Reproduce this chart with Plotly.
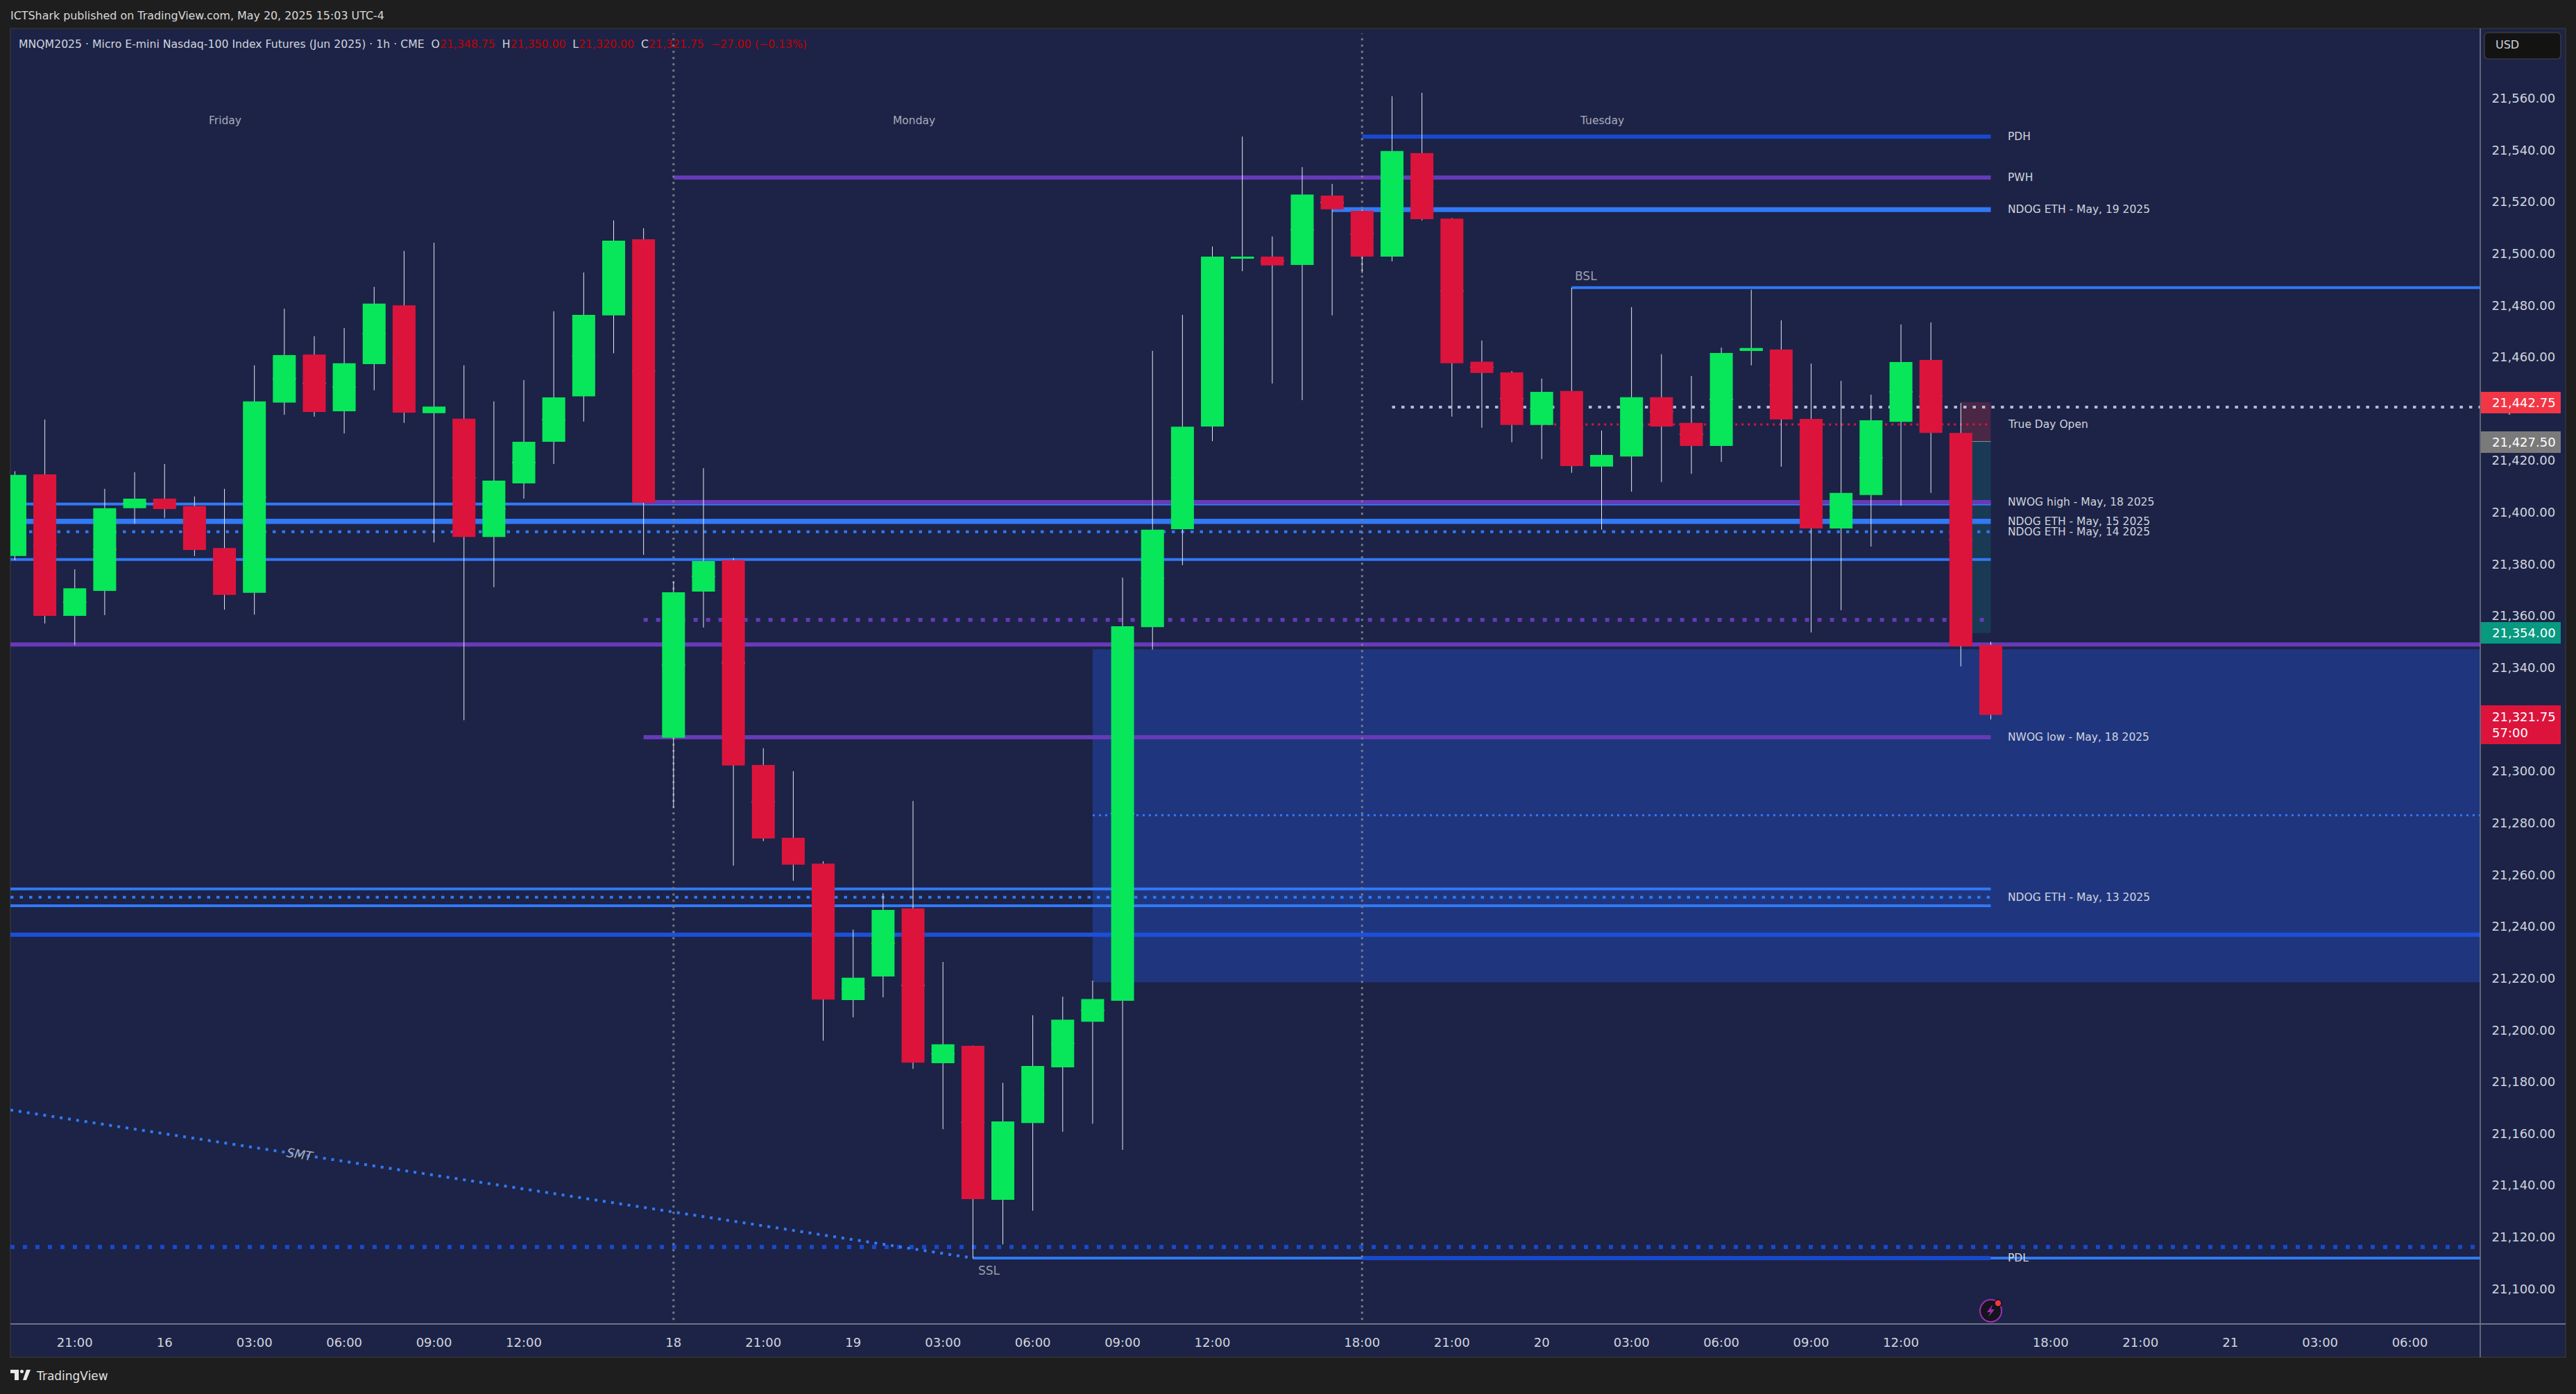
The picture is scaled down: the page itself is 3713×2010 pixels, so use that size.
import plotly.graph_objects as go

# ---------- data ----------
bar_index = list(range(-2, 65))
opens = [21383.1, 21414.7, 21360.0, 21369.7, 21401.6, 21405.3, 21402.4, 21386.2, 21368.9, 21442.4,
         21461.0, 21439.1, 21457.3, 21480.0, 21438.3, 21436.2, 21390.5, 21411.2, 21427.3, 21444.8,
         21476.1, 21505.5, 21312.9, 21369.4, 21381.5, 21302.4, 21274.3, 21264.3, 21211.6, 21220.7,
         21247.0, 21187.2, 21193.9, 21134.4, 21164.1, 21185.6, 21203.2, 21211.3, 21355.7, 21393.5,
         21433.2, 21498.0, 21498.8, 21495.6, 21522.4, 21516.5, 21498.8, 21538.8, 21513.5, 21458.2,
         21454.1, 21433.8, 21446.9, 21417.7, 21421.6, 21444.5, 21434.6, 21425.7, 21462.4, 21462.9,
         21436.1, 21393.8, 21406.7, 21435.0, 21458.9, 21430.7, 21348.75]
highs = [21415.9, 21435.9, 21378.0, 21409.1, 21415.5, 21418.7, 21406.1, 21409.1, 21456.8, 21478.7,
         21468.1, 21471.2, 21487.1, 21501.0, 21504.2, 21456.8, 21442.9, 21451.1, 21477.7, 21492.7,
         21512.8, 21509.8, 21373.4, 21417.1, 21382.4, 21308.9, 21300.0, 21265.2, 21238.8, 21252.8,
         21288.5, 21226.3, 21194.0, 21179.6, 21205.7, 21212.9, 21219.1, 21374.8, 21462.4, 21476.3,
         21502.7, 21545.2, 21506.6, 21533.4, 21526.9, 21517.0, 21560.8, 21562.1, 21513.7, 21466.4,
         21454.6, 21451.7, 21486.8, 21431.6, 21479.3, 21461.1, 21452.7, 21463.7, 21486.0, 21474.2,
         21457.5, 21450.8, 21445.5, 21472.6, 21473.4, 21442.3, 21350.0]
lows = [21381.5, 21357.1, 21348.7, 21360.3, 21395.6, 21397.8, 21383.1, 21362.4, 21360.5, 21437.7,
        21437.0, 21430.5, 21447.2, 21434.6, 21388.4, 21319.7, 21371.1, 21405.3, 21418.7, 21435.1,
        21461.5, 21383.6, 21285.9, 21355.5, 21263.5, 21273.0, 21257.7, 21195.9, 21204.9, 21212.6,
        21185.0, 21161.7, 21111.8, 21117.2, 21130.2, 21160.7, 21163.8, 21153.7, 21347.0, 21379.6,
        21427.5, 21493.2, 21449.8, 21443.4, 21476.1, 21492.5, 21497.0, 21512.8, 21437.0, 21432.7,
        21427.1, 21420.6, 21415.3, 21393.3, 21408.0, 21411.7, 21414.9, 21419.5, 21456.8, 21417.7,
        21353.6, 21362.2, 21386.8, 21402.6, 21407.5, 21340.5, 21320.0]
closes = [21414.5, 21360.0, 21370.7, 21401.6, 21405.3, 21401.3, 21385.5, 21368.1, 21442.9, 21460.8,
          21438.8, 21457.6, 21480.7, 21438.5, 21440.9, 21390.5, 21412.3, 21427.3, 21444.4, 21476.3,
          21505.0, 21403.7, 21369.1, 21381.2, 21302.2, 21274.0, 21263.9, 21211.8, 21220.2, 21246.4,
          21187.4, 21194.5, 21134.7, 21164.7, 21186.1, 21204.0, 21212.0, 21356.0, 21393.3, 21433.1,
          21498.8, 21498.8, 21495.4, 21522.8, 21517.1, 21498.8, 21539.6, 21513.3, 21457.6, 21453.9,
          21433.8, 21446.6, 21417.9, 21422.2, 21444.5, 21433.2, 21425.7, 21461.6, 21463.5, 21435.9,
          21393.8, 21407.5, 21435.6, 21458.1, 21430.7, 21348.3, 21321.75]

price_ticks = [21100, 21120, 21140, 21160, 21180, 21200, 21220, 21240, 21260, 21280, 21300, 21320,
               21340, 21360, 21380, 21400, 21420, 21440, 21460, 21480, 21500, 21520, 21540, 21560]
time_tick_bars = [0, 3, 6, 9, 12, 15, 20, 23, 26, 29, 32, 35, 38, 43, 46, 49, 52, 55, 58, 61, 66, 69, 72, 75, 78]
time_tick_labels = ["21:00", "16", "03:00", "06:00", "09:00", "12:00", "18", "21:00", "19", "03:00", "06:00",
                    "09:00", "12:00", "18:00", "21:00", "20", "03:00", "06:00", "09:00", "12:00", "18:00",
                    "21:00", "21", "03:00", "06:00"]

level_prices = [21545.2, 21529.4, 21517.0, 21486.8, 21440.7, 21434.0, 21403.2, 21404.0, 21396.5, 21392.5,
                21381.8, 21358.5, 21349.0, 21313.1, 21283.0, 21254.5, 21251.3, 21248.0, 21236.8, 21116.2,
                21111.9, 21111.9]
level_starts = [43, 20, 42, 50, 44, 49, -2.15, 19, -2.15, -2.15, -2.15, 19, -2.15, 19, 34, -2.15, -2.15,
                -2.15, -2.15, -2.15, 30, 43]
level_ends = [64, 64, 64, 80.35, 80.35, 64, 64, 64, 64, 64, 64, 64, 80.35, 64, 80.35, 64, 64, 64, 80.35,
              80.35, 80.35, 64]
level_labels = ["PDH", "PWH", "NDOG ETH - May, 19 2025", "", "", "True Day Open", "", "NWOG high - May, 18 2025",
                "NDOG ETH - May, 15 2025", "NDOG ETH - May, 14 2025", "", "", "", "NWOG low - May, 18 2025", "",
                "", "NDOG ETH - May, 13 2025", "", "", "", "", "PDL"]

zone_top, zone_bottom, zone_start, zone_end = 21347.1, 21218.5, 34, 80.35
pos_top, pos_mid, pos_bottom, pos_start, pos_end = 21442.6, 21427.4, 21353.4, 63, 64
session_bars = [20, 43]
smt_bars = [-2.15, 30]
smt_prices = [21169.1, 21111.9]

badge_texts = ["21,442.75", "21,427.50", "21,354.00", "21,321.75<br>57:00"]
day_labels = ["Friday", "Monday", "Tuesday"]

# ---------- styles ----------
PANEL = "#1c2347"
OUTER = "#1e1e1e"
GREEN = "#08e65a"
RED = "#dc143c"
BLUE = "#3179f5"
DARK = "#1848cc"
PURPLE = "#673ab7"
TXT = "#d1d4dc"
FONT = "DejaVu Sans"
dot = "4.5px,9px"
level_styles = [(DARK, 6, "solid"), (PURPLE, 6, "solid"), (BLUE, 7, "solid"), (BLUE, 4, "solid"),
                ("#b2b8d8", 4, dot), (RED, 3, "3px,6px"), (BLUE, 4, "solid"), (PURPLE, 6, "solid"),
                (BLUE, 7.5, "solid"), (BLUE, 4, dot), (BLUE, 4, "solid"), (PURPLE, 5.5, "6px,12px"),
                (PURPLE, 6, "solid"), (PURPLE, 6, "solid"), (BLUE, 3, "3px,6px"), (BLUE, 4, "solid"),
                (BLUE, 4, dot), (BLUE, 4, "solid"), ("#1c50d8", 6, "solid"), (DARK, 6, "6px,12px"),
                (BLUE, 4, "solid"), (DARK, 6, "solid")]

W, H = 3713, 2010
L, R, T, B = 15, 3575, 41, 1909


def px(x):
    return (x - L) / (R - L)


def py(y):
    return 1 - (y - T) / (B - T)


def prect(x0, y0, x1, y1, fill, line=None, lw=0, layer="below"):
    return dict(type="rect", xref="paper", yref="paper", x0=px(x0), x1=px(x1), y0=py(y0), y1=py(y1),
                fillcolor=fill, line=dict(color=line or fill, width=lw), layer=layer)


def pline(x0, y0, x1, y1, color, lw=1):
    return dict(type="line", xref="paper", yref="paper", x0=px(x0), x1=px(x1), y0=py(y0), y1=py(y1),
                line=dict(color=color, width=lw), layer="above")


def ppath(points, fill, line=None, lw=0):
    d = "M " + " L ".join(f"{px(a):.6f},{py(b):.6f}" for a, b in points) + " Z"
    return dict(type="path", xref="paper", yref="paper", path=d, fillcolor=fill,
                line=dict(color=line or fill, width=lw), layer="above")


def ptext(x, y, text, size=15.5, color=TXT, anchor="left", **kw):
    return dict(xref="paper", yref="paper", x=px(x), y=py(y), text=text, showarrow=False, xanchor=anchor,
                yanchor="middle", font=dict(family=FONT, size=size, color=color), align="left", **kw)


shapes = [prect(15, 41, 3698, 1957, PANEL, "#2e2f33", 2)]
shapes.append(dict(type="rect", xref="x", yref="y", x0=zone_start, x1=zone_end, y0=zone_bottom, y1=zone_top,
                   fillcolor="#1f367f", line=dict(width=0), layer="below"))
shapes.append(dict(type="rect", xref="x", yref="y", x0=pos_start, x1=pos_end, y0=pos_mid, y1=pos_top,
                   fillcolor="#4a2745", line=dict(width=0), layer="below"))
shapes.append(dict(type="rect", xref="x", yref="y", x0=pos_start, x1=pos_end, y0=pos_bottom, y1=pos_mid,
                   fillcolor="#193a55", line=dict(width=0), layer="below"))
shapes.append(dict(type="line", xref="x", yref="y", x0=pos_start, x1=pos_end, y0=pos_mid, y1=pos_mid,
                   line=dict(color="#8a8f95", width=1), layer="below"))
for p, s, e, (c, w, d) in zip(level_prices, level_starts, level_ends, level_styles):
    shapes.append(dict(type="line", xref="x", yref="y", x0=s, x1=e, y0=p, y1=p,
                       line=dict(color=c, width=w, dash=d), layer="below"))
shapes.append(dict(type="line", xref="x", yref="y", x0=smt_bars[0], x1=smt_bars[1], y0=smt_prices[0], y1=smt_prices[1],
                   line=dict(color=BLUE, width=4, dash="4px,8px"), layer="below"))
for b in session_bars:
    shapes.append(dict(type="line", xref="x", yref="y", x0=b, x1=b, y0=21088, y1=21585,
                       line=dict(color="#787b86", width=3, dash="3px,6px"), layer="below"))

# axis frame lines, badges, USD box
shapes += [pline(15, 1909, 3698, 1909, "#8c8f98", 1.5), pline(3575, 41, 3575, 1957, "#787b86", 1.5)]
badge_boxes = [(565, 596, "#f23645"), (622, 653, "#7a7a7a"), (897, 928, "#089981"), (1017, 1073, RED)]
for y0, y1, col in badge_boxes:
    shapes.append(prect(3576, y0, 3691, y1, col, layer="above"))
shapes.append(dict(type="path", xref="paper", yref="paper", layer="above", fillcolor="#131313",
                   line=dict(color="#3a3b40", width=1.5),
                   path=(f"M {px(3587)},{py(47)} L {px(3685)},{py(47)} Q {px(3691)},{py(47)} {px(3691)},{py(53)} "
                         f"L {px(3691)},{py(79)} Q {px(3691)},{py(85)} {px(3685)},{py(85)} L {px(3587)},{py(85)} "
                         f"Q {px(3581)},{py(85)} {px(3581)},{py(79)} L {px(3581)},{py(53)} "
                         f"Q {px(3581)},{py(47)} {px(3587)},{py(47)} Z")))
# flash icon
shapes.append(dict(type="circle", xref="paper", yref="paper", layer="above", fillcolor="#14141c",
                   line=dict(color="#9c2fb0", width=2), x0=px(2854), x1=px(2885), y0=py(1874), y1=py(1906)))
shapes.append(ppath([(2872, 1881), (2864, 1892), (2869, 1892), (2866, 1899), (2875, 1888), (2870, 1888)], "#9c2fb0"))
shapes.append(dict(type="circle", xref="paper", yref="paper", layer="above", fillcolor="#f23645",
                   line=dict(color="#14141c", width=1.5), x0=px(2875), x1=px(2885), y0=py(1874), y1=py(1884)))
# TradingView logo
shapes.append(ppath([(15, 1975), (27, 1975), (27, 1990), (21, 1990), (21, 1980), (15, 1980)], "#e8e8e8"))
shapes.append(ppath([(33, 1990), (38, 1975), (44, 1975), (38, 1990)], "#e8e8e8"))
shapes.append(dict(type="circle", xref="paper", yref="paper", layer="above", fillcolor="#e8e8e8",
                   line=dict(width=0), x0=px(29), x1=px(34), y0=py(1975), y1=py(1980)))

R2 = "#c40000"
legend = (f"MNQM2025 · Micro E-mini Nasdaq-100 Index Futures (Jun 2025) · 1h · CME &nbsp;O"
          f"<span style='color:{R2}'>21,348.75</span> &nbsp;H<span style='color:{R2}'>21,350.00</span>"
          f" &nbsp;L<span style='color:{R2}'>21,320.00</span> &nbsp;C<span style='color:{R2}'>21,321.75 "
          f"&nbsp;−27.00 (−0.13%)</span>")

annotations = [
    ptext(13, 23, "ICTShark published on TradingView.com, May 20, 2025 15:03 UTC-4", 15.9, "#d8d8d8"),
    ptext(25, 64, legend, 15.7),
    ptext(3595, 65, "USD", 16),
    ptext(50, 1984, "TradingView", 17, "#e0e0e0"),
    ptext(2268, 398, "BSL", 17, "#9a9dac"),
    ptext(1408, 1832, "SSL", 17, "#9a9dac"),
    ptext(433, 1664, "<i>SMT</i>", 18, "#a8abb8", anchor="center", textangle=9),
    ptext(324, 174, day_labels[0], 15.5, "#a8abb8", anchor="center"),
    ptext(1317, 174, day_labels[1], 15.5, "#a8abb8", anchor="center"),
    ptext(2309, 174, day_labels[2], 15.5, "#a8abb8", anchor="center"),
]
for (y0, y1, _), t in zip(badge_boxes, badge_texts):
    annotations.append(ptext(3590, (y0 + y1) / 2, t, 18, "#ffffff"))
for lbl, p in zip(level_labels, level_prices):
    if lbl:
        annotations.append(dict(xref="x", yref="y", x=64.52, y=p, text=lbl, showarrow=False, xanchor="left",
                                yanchor="middle", font=dict(family=FONT, size=15.5, color=TXT)))

mids = [(o + c) / 2 for o, c in zip(opens, closes)]
body_hi = [max(o, c) for o, c in zip(opens, closes)]
body_lo = [min(o, c) for o, c in zip(opens, closes)]

fig = go.Figure()
WICK = "#e6e8f0"
fig.add_trace(go.Candlestick(x=bar_index, open=mids, high=highs, low=lows, close=mids, whiskerwidth=0,
                             increasing=dict(line=dict(color=WICK, width=1), fillcolor=WICK),
                             decreasing=dict(line=dict(color=WICK, width=1), fillcolor=WICK),
                             showlegend=False, hoverinfo="skip"))
fig.add_trace(go.Candlestick(x=bar_index, open=opens, high=body_hi, low=body_lo, close=closes, whiskerwidth=0,
                             increasing=dict(line=dict(color=GREEN, width=0), fillcolor=GREEN),
                             decreasing=dict(line=dict(color=RED, width=0), fillcolor=RED),
                             showlegend=False))

fig.update_layout(
    width=W, height=H, autosize=False,
    paper_bgcolor=OUTER, plot_bgcolor=PANEL,
    margin=dict(l=L, r=W - R, t=T, b=H - B, pad=0),
    showlegend=False, boxgap=0.235, boxgroupgap=0, boxmode="overlay",
    font=dict(family=FONT, size=18, color=TXT),
    xaxis=dict(type="linear", range=[-2.15, 80.35], tickmode="array", tickvals=time_tick_bars,
               ticktext=time_tick_labels, showgrid=False, zeroline=False, ticks="outside", ticklen=10,
               tickcolor="rgba(0,0,0,0)", tickfont=dict(family=FONT, size=18, color=TXT),
               rangeslider=dict(visible=False), showline=False),
    yaxis=dict(side="right", range=[21086.44, 21586.98], tickmode="array", tickvals=price_ticks,
               tickformat=",.2f", showgrid=False, zeroline=False, ticks="outside", ticklen=12,
               tickcolor="rgba(0,0,0,0)", tickfont=dict(family=FONT, size=18, color=TXT), showline=False),
    shapes=shapes, annotations=annotations,
)
fig.write_html("out.html", config={"displayModeBar": False},
               post_script="document.body.style.margin='0';")
